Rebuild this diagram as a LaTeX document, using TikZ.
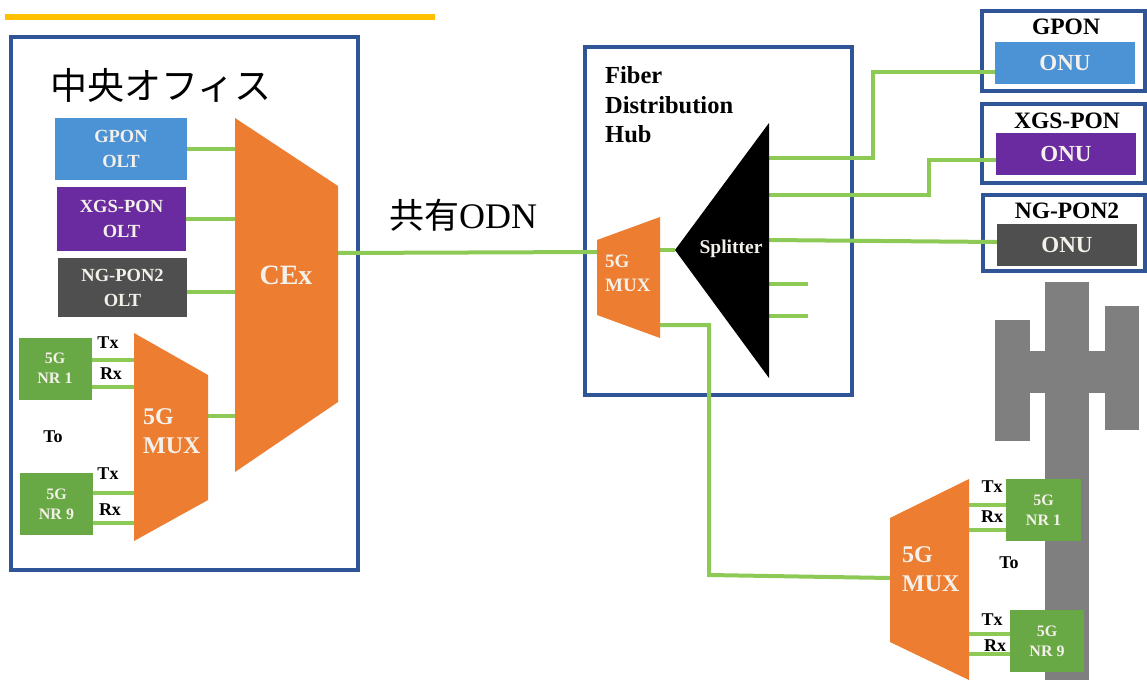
\documentclass[tikz,border=0pt]{standalone}
\usepackage{fontspec}
\setmainfont{Liberation Serif}
\newfontfamily\cjk{Noto Sans CJK JP}
\usetikzlibrary{positioning}
\definecolor{framecol}{HTML}{2F5597}
\definecolor{fibercol}{HTML}{8DC955}
\definecolor{muxcol}{HTML}{ED7D31}
\definecolor{nrcol}{HTML}{68A945}
\definecolor{gponcol}{HTML}{4C93D6}
\definecolor{xgscol}{HTML}{6A2BA0}
\definecolor{ngcol}{HTML}{4F4F4F}
\definecolor{towercol}{HTML}{7F7F7F}
\definecolor{softwhite}{HTML}{F4F0EA}
\definecolor{barcol}{HTML}{FFC000}
\begin{document}
\begin{tikzpicture}[x=1pt,y=-1pt,
    frame/.style={draw=framecol,line width=4pt,fill=white},
    fiber/.style={draw=fibercol,line width=4pt},
    thinfiber/.style={draw=fibercol,line width=3.5pt},
    mux/.style={fill=muxcol},
    box/.style={inner sep=0pt,align=center,text=softwhite,font=\fontsize{18.5}{25}\selectfont\bfseries},
    nrbox/.style={box,fill=nrcol,minimum width=73pt,minimum height=62pt,font=\fontsize{16}{20}\selectfont\bfseries},
    onubox/.style={box,minimum width=140pt,minimum height=42pt,font=\fontsize{23}{26}\selectfont\bfseries},
    tag/.style={inner sep=0pt,font=\fontsize{18}{20}\selectfont\bfseries},
    ponname/.style={inner sep=0pt,font=\fontsize{23.5}{26}\selectfont\bfseries},
    muxtext/.style={inner sep=0pt,align=left,text=softwhite,font=\fontsize{24}{29}\selectfont\bfseries}]
    \useasboundingbox (0,0) rectangle (1147,680);
    \fill[barcol] (5,14) rectangle (435,20);

    \draw[frame] (11,37) rectangle (358,570);
    \draw[frame] (585,47) rectangle (852,395);
    \draw[frame] (982,11) rectangle (1145,91);
    \draw[frame] (982,104) rectangle (1145,183);
    \draw[frame] (983,195) rectangle (1145,271);

    \fill[towercol] (1045,282) rectangle (1089,680);
    \fill[towercol] (995,351) rectangle (1139,393);
    \fill[towercol] (995,320) rectangle (1030,441);
    \fill[towercol] (1105,306) rectangle (1139,430);

    \node[box,fill=gponcol,minimum width=132pt,minimum height=62pt] (gponolt) at (121,149) {GPON\\OLT};
    \node[box,fill=xgscol,minimum width=129pt,minimum height=64pt] (xgsolt) at (121.5,219) {XGS-PON\\OLT};
    \node[box,fill=ngcol,minimum width=129pt,minimum height=59pt] (ngolt) at (122.5,287.5) {NG-PON2\\OLT};
    \node[nrbox] (nra) at (55,368.5) {5G\\NR 1};
    \node[nrbox] (nrb) at (56.5,504) {5G\\NR 9};
    \node[onubox,fill=gponcol] (gpononu) at (1065,63) {ONU};
    \node[onubox,fill=xgscol] (xgsonu) at (1066,154) {ONU};
    \node[onubox,fill=ngcol] (ngonu) at (1067,245) {ONU};
    \node[nrbox,minimum width=75pt] (nrc) at (1043.5,510) {5G\\NR 1};
    \node[nrbox,minimum width=74pt] (nrd) at (1047,641) {5G\\NR 9};

    \coordinate (cexa) at (235,149);
    \coordinate (cexb) at (235,219);
    \coordinate (cexc) at (235,292);
    \coordinate (cexd) at (235,416);
    \coordinate (cexout) at (338,253);
    \coordinate (muxaout) at (208,416);
    \coordinate (muxatxa) at (134,360);
    \coordinate (muxarxa) at (134,387);
    \coordinate (muxatxb) at (134,493);
    \coordinate (muxarxb) at (134,523);
    \coordinate (hubin) at (597,252);
    \coordinate (hubout) at (660,250);
    \coordinate (hubdown) at (660,325);
    \coordinate (splitin) at (675,250);
    \coordinate (splita) at (769,158);
    \coordinate (splitb) at (769,195);
    \coordinate (splitc) at (769,240);
    \coordinate (splitd) at (769,284);
    \coordinate (splite) at (769,316);
    \coordinate (stubd) at (808,284);
    \coordinate (stube) at (808,316);
    \coordinate (muxbin) at (890,578);
    \coordinate (muxbtxa) at (969,505);
    \coordinate (muxbrxa) at (969,530);
    \coordinate (muxbtxb) at (969,634);
    \coordinate (muxbrxb) at (969,654);

    \draw[fiber] (gponolt.east) -- (cexa);
    \draw[fiber] (xgsolt.east) -- (cexb);
    \draw[fiber] (ngolt.east |- cexc) -- (cexc);
    \draw[fiber] (muxaout) -- (cexd);
    \draw[thinfiber] (nra.east |- muxatxa) -- (muxatxa);
    \draw[thinfiber] (nra.east |- muxarxa) -- (muxarxa);
    \draw[thinfiber] (nrb.east |- muxatxb) -- (muxatxb);
    \draw[thinfiber] (nrb.east |- muxarxb) -- (muxarxb);
    \draw[fiber] (cexout) -- (hubin);
    \draw[fiber] (hubout) -- (splitin);
    \draw[fiber] (splita) -- (873,158) -- (873,72) -- (gpononu.west |- 0,72);
    \draw[fiber] (splitb) -- (929,195) -- (929,160) -- (xgsonu.west |- 0,160);
    \draw[fiber] (splitc) -- (ngonu.west |- 0,242);
    \draw[fiber] (splitd) -- (stubd);
    \draw[fiber] (splite) -- (stube);
    \draw[fiber] (hubdown) -- (709,325) -- (709,575) -- (muxbin);
    \draw[thinfiber] (muxbtxa) -- (nrc.west |- muxbtxa);
    \draw[thinfiber] (muxbrxa) -- (nrc.west |- muxbrxa);
    \draw[thinfiber] (muxbtxb) -- (nrd.west |- muxbtxb);
    \draw[thinfiber] (muxbrxb) -- (nrd.west |- muxbrxb);

    \fill[mux] (235,118) -- (338,186) -- (338,402) -- (235,472) -- cycle;
    \fill[mux] (134,333) -- (208,375) -- (208,500) -- (134,541) -- cycle;
    \fill[mux] (597,240) -- (660,217) -- (660,338) -- (597,315) -- cycle;
    \fill[mux] (890,518) -- (969,479) -- (969,680) -- (890,642) -- cycle;
    \fill[black] (769,123) -- (675,250) -- (769,378) -- cycle;

    \node[muxtext,font=\fontsize{28}{30}\selectfont\bfseries] (cextext) at (286,275) {CEx};
    \node[muxtext,anchor=west] (muxatext) at (143,431) {5G\\MUX};
    \node[muxtext,anchor=west,font=\fontsize{19}{24}\selectfont\bfseries] (hubmuxtext) at (605,273) {5G\\MUX};
    \node[muxtext,anchor=west] (muxbtext) at (902,569) {5G\\MUX};
    \node[inner sep=0pt,text=softwhite,font=\fontsize{19.5}{22}\selectfont\bfseries] (splittext) at (731,249) {Splitter};

    \node[tag] (txa) at (108,343) {Tx};
    \node[tag] (rxa) at (111,374) {Rx};
    \node[tag] (toa) at (53,437) {To};
    \node[tag] (txb) at (108,474) {Tx};
    \node[tag] (rxb) at (110,510) {Rx};
    \node[tag] (txc) at (992,487) {Tx};
    \node[tag] (rxc) at (992,517) {Rx};
    \node[tag] (toc) at (1009,563) {To};
    \node[tag] (txd) at (992,620) {Tx};
    \node[tag] (rxd) at (995,646) {Rx};

    \node[inner sep=0pt,anchor=west,align=left,font=\fontsize{24.5}{29.5}\selectfont\bfseries] (hubname) at (605,105) {Fiber\\Distribution\\Hub};
    \node[ponname] (gponname) at (1066,27) {GPON};
    \node[ponname] (xgsname) at (1067,121) {XGS-PON};
    \node[ponname] (ngname) at (1067,211) {NG-PON2};

    \node[inner sep=0pt,anchor=west,font=\cjk\fontsize{37}{40}\selectfont] (office) at (50,85) {中央オフィス};
    \node[inner sep=0pt,anchor=west,font=\fontsize{36}{40}\selectfont] (odn) at (389,215) {{\cjk\fontsize{35}{40}\selectfont 共有}ODN};
\end{tikzpicture}
\end{document}
